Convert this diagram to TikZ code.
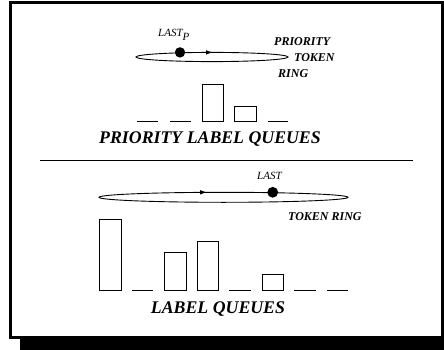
\documentclass[tikz,border=0pt]{standalone}
\usepackage{fontspec}
\setmainfont{Liberation Serif}
\usetikzlibrary{arrows.meta}
\tikzset{
  thin line/.style={line width=0.9pt},
  ring/.style={thin line},
  queue/.style={thin line},
  token/.style={fill=black},
  flowmark/.style={-{Latex[length=7pt,width=4.6pt]}, thin line},
  ringlabel/.style={font=\fontsize{12}{14}\selectfont\bfseries\itshape, inner sep=0pt, anchor=base west},
  lastlabel/.style={font=\fontsize{11}{13}\selectfont\itshape, inner sep=0pt, anchor=base west},
  title/.style={font=\fontsize{17.8}{21}\selectfont\bfseries\itshape, inner sep=0pt, anchor=base},
}
\begin{document}
\begin{tikzpicture}[x=1pt,y=-1pt]
\useasboundingbox (0,0) rectangle (444,350);

% framed page with drop shadow
\fill (20,337) rectangle (444,350);
\draw[line width=3pt] (10.5,3) rectangle (442.5,337.5);

% ---------- priority token ring ----------
\draw[ring] (212,57) ellipse [x radius=76, y radius=4.6];
\draw[flowmark] (196,52.4) -- (213,52.4);
\fill[token] (180,52.4) circle [radius=5.2];
\node[lastlabel] (lastp) at (158,37) {LAST\raisebox{-4pt}{P}};
\node[ringlabel] (pr1) at (274,46) {PRIORITY};
\node[ringlabel] (pr2) at (294,62) {TOKEN};
\node[ringlabel] (pr3) at (278,78) {RING};

% priority label queues
\draw[queue] (137,121.7) -- (158,121.7);
\draw[queue] (170,121.7) -- (191,121.7);
\draw[queue] (202,121.7) rectangle (223,84);
\draw[queue] (234,121.7) rectangle (256,106);
\draw[queue] (268,121.7) -- (288,121.7);
\node[title] (pq) at (210,143) {PRIORITY LABEL QUEUES};

% separator
\draw[thin line] (40,160.7) -- (413,160.7);

% ---------- token ring ----------
\draw[ring] (223.5,197.3) ellipse [x radius=124.5, y radius=5];
\draw[flowmark] (190,192.3) -- (207,192.3);
\fill[token] (272.7,192.3) circle [radius=5.4];
\node[lastlabel] (last) at (257,179) {LAST};
\node[ringlabel] (tr) at (288,220) {TOKEN RING};

% label queues
\draw[queue] (99,290) rectangle (121,219.3);
\draw[queue] (132,290) -- (153,290);
\draw[queue] (164,290) rectangle (186,252.3);
\draw[queue] (197,290) rectangle (218,241);
\draw[queue] (229,290) -- (251,290);
\draw[queue] (262,290) rectangle (283,274);
\draw[queue] (294,290) -- (316,290);
\draw[queue] (327,290) -- (348,290);
\node[title] (lq) at (218,313) {LABEL QUEUES};
\end{tikzpicture}
\end{document}
